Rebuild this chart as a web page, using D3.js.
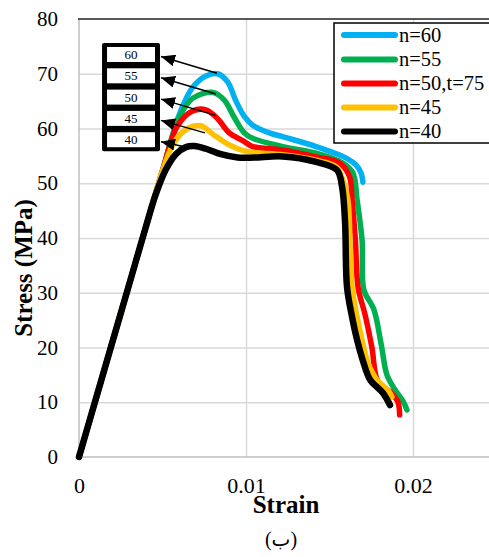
<!DOCTYPE html>
<html>
<head>
<meta charset="utf-8">
<script src="https://cdn.jsdelivr.net/npm/d3@7"></script>
<style>
  html, body { margin: 0; padding: 0; background: #fff; }
  svg { display: block; }
</style>
</head>
<body>
<div id="chart"></div>
<script>
// series: [strain, stress MPa]
const n60 = [[0,0],[0.001,10.5],[0.002,21],[0.003,31.5],[0.004,42],[0.005,52.3],[0.006,62.5],[0.0068,67.5],[0.0076,69.6],[0.0083,70],[0.0089,68.5],[0.0094,65],[0.0099,62.2],[0.0104,60.6],[0.0114,59.2],[0.0122,58.5],[0.0142,56.7],[0.016,54.6],[0.0166,53.3],[0.0169,51.8],[0.017,50.2]];
const n55 = [[0,0],[0.001,10.5],[0.002,21],[0.003,31.5],[0.004,42],[0.005,52.3],[0.006,62],[0.0068,65.5],[0.008,66.6],[0.0087,65.2],[0.0093,62],[0.0099,59.2],[0.0104,58.2],[0.0122,56.7],[0.0142,55.5],[0.0158,53.7],[0.0164,51.9],[0.01665,47],[0.01695,39.6],[0.01706,30.5],[0.01765,27],[0.0181,20.5],[0.01844,15],[0.0189,12.4],[0.0194,10.2],[0.01964,8.6]];
const n50 = [[0,0],[0.001,10.5],[0.002,21],[0.003,31.5],[0.004,42],[0.005,52.3],[0.0059,60.5],[0.0068,63.2],[0.0076,63.4],[0.0083,61.8],[0.009,59.2],[0.0098,57.8],[0.0104,56.7],[0.0122,56.1],[0.0142,54.8],[0.0156,53.7],[0.0162,51.2],[0.01635,47],[0.01655,39.6],[0.01671,31],[0.01713,26],[0.01754,20],[0.0179,13.8],[0.0187,11.7],[0.0191,10],[0.0192,7.7]];
const n45 = [[0,0],[0.001,10.5],[0.002,21],[0.003,31.5],[0.004,42],[0.005,52.3],[0.0057,57.5],[0.0065,60],[0.0073,60.5],[0.008,59],[0.009,57],[0.0099,55.9],[0.0122,55.2],[0.0142,54.2],[0.0154,53],[0.0158,50.6],[0.0161,47],[0.01623,39.6],[0.01635,31],[0.01665,25.6],[0.01695,21.4],[0.0173,17.2],[0.01784,14.1],[0.0185,12.2],[0.01874,11]];
const n40 = [[0,0],[0.001,10.5],[0.002,21],[0.003,31.5],[0.004,42],[0.0046,48],[0.0052,52.5],[0.0058,55.3],[0.0064,56.6],[0.0069,56.8],[0.0076,56.3],[0.0085,55.3],[0.0095,54.7],[0.0105,54.7],[0.0122,54.9],[0.0142,53.9],[0.01545,52.4],[0.01575,49.4],[0.01593,43],[0.01605,31],[0.01635,25.6],[0.01665,21.4],[0.017,17.6],[0.01743,14.1],[0.0182,11.7],[0.01862,9.5]];

const seriesNames = [`n=60`, `n=55`, `n=50,t=75`, `n=45`, `n=40`];
const seriesData = [n60, n55, n50, n45, n40];
const seriesColors = [`#00b0f0`, `#00b050`, `#ff0000`, `#ffc000`, `#000000`];

const xTicks = [0, 0.01, 0.02];
const yTicks = [0, 10, 20, 30, 40, 50, 60, 70, 80];

// annotation boxes: label, arrow start [strain, stress]
const boxLabels = [`60`, `55`, `50`, `45`, `40`];
const arrowFrom = [[0.00826, 70.1], [0.0082, 66.3], [0.00817, 62.4], [0.00754, 59.2], [0.00625, 56.7]];

const FONT = `"Liberation Serif", "Times New Roman", serif`;
const width = 489;
const height = 557;
const margin = {top: 19, left: 79, bottom: 100};

const x = d3.scaleLinear().domain([0, 0.02]).range([margin.left, 413]);
const y = d3.scaleLinear().domain([0, 80]).range([height - margin.bottom, margin.top]);

const svg = d3.select(`#chart`).append(`svg`)
  .attr(`width`, width)
  .attr(`height`, height)
  .attr(`font-family`, FONT);

svg.append(`defs`).append(`marker`)
  .attr(`id`, `head`)
  .attr(`viewBox`, `0 0 14 12`)
  .attr(`refX`, 14)
  .attr(`refY`, 6)
  .attr(`markerWidth`, 14)
  .attr(`markerHeight`, 12)
  .attr(`markerUnits`, `userSpaceOnUse`)
  .attr(`orient`, `auto`)
  .append(`path`)
    .attr(`d`, `M0,0L14,6L0,12Z`)
    .attr(`fill`, `#000`);

// grid
svg.append(`g`)
  .attr(`transform`, `translate(0,${y(0)})`)
  .call(d3.axisBottom(x).tickValues(xTicks.slice(1)).tickSize(-(y(0) - y(80))).tickFormat(``))
  .call(g => g.select(`.domain`).remove())
  .call(g => g.selectAll(`line`).attr(`stroke`, `#d9d9d9`).attr(`stroke-width`, 1.5));

svg.append(`g`)
  .attr(`transform`, `translate(${x(0)},0)`)
  .call(d3.axisLeft(y).tickValues(yTicks.slice(1, -1)).tickSize(-(width - x(0))).tickFormat(``))
  .call(g => g.select(`.domain`).remove())
  .call(g => g.selectAll(`line`).attr(`stroke`, `#d9d9d9`).attr(`stroke-width`, 1.5));

// axes lines
svg.append(`line`)
  .attr(`x1`, x(0)).attr(`x2`, width)
  .attr(`y1`, y(0)).attr(`y2`, y(0))
  .attr(`stroke`, `#bfbfbf`).attr(`stroke-width`, 1.5);
svg.append(`line`)
  .attr(`x1`, x(0)).attr(`x2`, x(0))
  .attr(`y1`, y(0)).attr(`y2`, y(80))
  .attr(`stroke`, `#bfbfbf`).attr(`stroke-width`, 1.5);
svg.append(`line`)
  .attr(`x1`, x(0) - 1).attr(`x2`, width)
  .attr(`y1`, y(80)).attr(`y2`, y(80))
  .attr(`stroke`, `#222`).attr(`stroke-width`, 1.5);

// tick labels
svg.append(`g`)
  .attr(`transform`, `translate(${x(0)},0)`)
  .call(d3.axisLeft(y).tickValues(yTicks).tickSize(0).tickPadding(21))
  .call(g => g.select(`.domain`).remove())
  .call(g => g.attr(`font-family`, FONT).attr(`font-size`, 21))
  .call(g => g.selectAll(`text`).attr(`fill`, `#000`));

svg.append(`g`)
  .attr(`transform`, `translate(0,${y(0)})`)
  .call(d3.axisBottom(x).tickValues(xTicks).tickSize(0).tickPadding(20).tickFormat(d => d === 0 ? `0` : d3.format(`.2f`)(d)))
  .call(g => g.select(`.domain`).remove())
  .call(g => g.attr(`font-family`, FONT).attr(`font-size`, 22))
  .call(g => g.selectAll(`text`).attr(`fill`, `#000`));

// axis titles
svg.append(`text`)
  .attr(`x`, 286).attr(`y`, 513)
  .attr(`text-anchor`, `middle`)
  .attr(`font-size`, 25).attr(`font-weight`, `bold`)
  .text(`Strain`);

svg.append(`text`)
  .attr(`transform`, `translate(32, 268) rotate(-90)`)
  .attr(`text-anchor`, `middle`)
  .attr(`font-size`, 25).attr(`font-weight`, `bold`)
  .text(`Stress (MPa)`);

svg.append(`text`)
  .attr(`x`, 281).attr(`y`, 546)
  .attr(`text-anchor`, `middle`)
  .attr(`font-size`, 20)
  .attr(`font-family`, `"Liberation Serif", "DejaVu Sans", serif`)
  .text(`(ب)`);

// curves
const line = d3.line()
  .x(d => x(d[0]))
  .y(d => y(d[1]))
  .curve(d3.curveCatmullRom.alpha(0.5));

const plot = svg.append(`g`);
plot.selectAll(`path.curve`)
  .data(seriesData)
  .enter().append(`path`)
    .attr(`class`, `curve`)
    .attr(`d`, line)
    .attr(`fill`, `none`)
    .attr(`stroke`, (d, i) => seriesColors[i])
    .attr(`stroke-width`, (d, i) => i === 4 ? 6.5 : 5.5)
    .attr(`stroke-linecap`, `round`)
    .attr(`stroke-linejoin`, `round`);

// annotation boxes
const boxLeft = 0.00138;
const boxRight = 0.00485;
const rowH = 21.3;
const firstRow = 54.5;
const ann = svg.append(`g`);
ann.append(`rect`)
  .attr(`x`, x(boxLeft)).attr(`y`, firstRow - 11.5)
  .attr(`width`, x(boxRight) - x(boxLeft)).attr(`height`, rowH * 4 + 23)
  .attr(`rx`, 2)
  .attr(`fill`, `#000`);
boxLabels.forEach((lab, i) => {
  const cy = firstRow + i * rowH;
  ann.append(`rect`)
    .attr(`x`, x(boxLeft) + 5).attr(`y`, cy - 7.5)
    .attr(`width`, x(boxRight) - x(boxLeft) - 10).attr(`height`, 15)
    .attr(`fill`, `#fff`);
  ann.append(`text`)
    .attr(`x`, (x(boxLeft) + x(boxRight)) / 2).attr(`y`, cy + 4.5)
    .attr(`text-anchor`, `middle`)
    .attr(`font-size`, 13)
    .text(lab);
  ann.append(`line`)
    .attr(`x1`, x(arrowFrom[i][0])).attr(`y1`, y(arrowFrom[i][1]))
    .attr(`x2`, x(boxRight) + 1).attr(`y2`, cy + 2)
    .attr(`stroke`, `#000`).attr(`stroke-width`, 1.5)
    .attr(`marker-end`, `url(#head)`);
});

// legend
const legend = svg.append(`g`);
legend.append(`rect`)
  .attr(`x`, 334).attr(`y`, 23)
  .attr(`width`, 170).attr(`height`, 120)
  .attr(`fill`, `#fff`).attr(`stroke`, `#000`).attr(`stroke-width`, 1.5);
const rowY = [35, 59.5, 83.5, 107.5, 131.5];
seriesNames.forEach((name, i) => {
  legend.append(`line`)
    .attr(`x1`, 344).attr(`x2`, 395)
    .attr(`y1`, rowY[i]).attr(`y2`, rowY[i])
    .attr(`stroke`, seriesColors[i]).attr(`stroke-width`, 6)
    .attr(`stroke-linecap`, `round`);
  legend.append(`text`)
    .attr(`x`, 399).attr(`y`, rowY[i] + 6.5)
    .attr(`font-size`, 20.5)
    .text(name);
});
</script>
</body>
</html>
